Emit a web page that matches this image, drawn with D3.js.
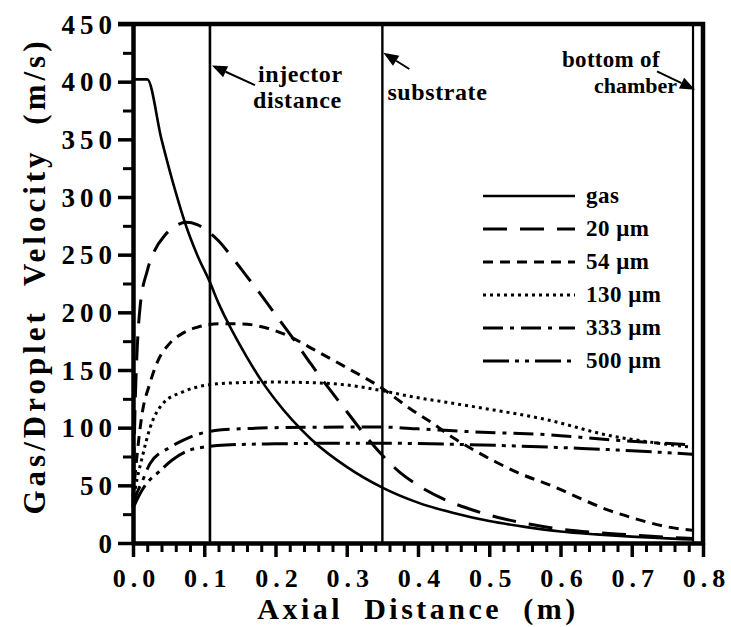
<!DOCTYPE html>
<html>
<head>
<meta charset="utf-8">
<script src="https://cdn.jsdelivr.net/npm/d3@7"></script>
<style>
  html, body { margin: 0; padding: 0; background: #fff; }
  svg { display: block; }
</style>
</head>
<body>
<svg id="chart" width="731" height="627"></svg>
<script>
// Axial position (m) and velocity (m/s) for the gas and each droplet size
const gasX  = [0, 0.02, 0.04, 0.06, 0.075, 0.09, 0.108, 0.12, 0.14, 0.16, 0.18, 0.2, 0.25, 0.3, 0.35, 0.4, 0.45, 0.5, 0.55, 0.6, 0.65, 0.7, 0.75, 0.785];
const gasV  = [402, 402, 350, 304, 274, 250, 226, 208, 183, 161, 141, 124, 90, 66, 48, 35, 26, 19, 14, 10, 7.5, 5.5, 4, 3];

const d20X  = [0, 0.003, 0.006, 0.01, 0.02, 0.03, 0.045, 0.06, 0.075, 0.09, 0.108, 0.12, 0.14, 0.16, 0.18, 0.2, 0.225, 0.25, 0.275, 0.3, 0.325, 0.35, 0.375, 0.4, 0.44, 0.48, 0.52, 0.56, 0.6, 0.65, 0.7, 0.75, 0.785];
const d20V  = [30, 120, 170, 205, 236, 253, 267, 275, 278, 276, 269, 262, 247, 231, 215, 198, 177, 155, 134, 114, 94, 76, 61, 50, 37, 28, 21, 16, 12, 9, 7, 5, 4];

const d54X  = [0, 0.005, 0.012, 0.024, 0.035, 0.05, 0.07, 0.09, 0.12, 0.15, 0.19, 0.22, 0.25, 0.3, 0.35, 0.39, 0.42, 0.45, 0.48, 0.51, 0.54, 0.59, 0.63, 0.665, 0.7, 0.75, 0.785];
const d54V  = [40, 72, 109, 139, 158, 172, 182, 187, 190, 190, 186, 179, 169, 152, 134, 116, 104, 91, 80, 70, 61, 49, 38, 29, 22, 14, 11];

const d130X = [0, 0.004, 0.012, 0.024, 0.042, 0.07, 0.104, 0.15, 0.2, 0.25, 0.3, 0.35, 0.39, 0.44, 0.49, 0.58, 0.67, 0.72, 0.785];
const d130V = [35, 50, 72, 100, 121, 131, 137, 139, 139.5, 139, 137, 132, 127, 122, 117, 107, 93, 88, 83];

const d333X = [0, 0.006, 0.012, 0.024, 0.052, 0.07, 0.09, 0.115, 0.15, 0.2, 0.3, 0.35, 0.4, 0.49, 0.58, 0.67, 0.785];
const d333V = [33, 44, 52, 69, 83, 89, 94, 97.5, 99, 100, 100.5, 100.5, 99, 96, 94, 89.5, 85];

const d500X = [0, 0.006, 0.012, 0.021, 0.035, 0.055, 0.077, 0.098, 0.13, 0.2, 0.3, 0.35, 0.49, 0.63, 0.7, 0.785];
const d500V = [30, 38, 45, 53, 61, 72, 80, 83, 85, 86, 86.5, 86.5, 85, 82, 80, 77];

const seriesNames = ["gas", "20 \u03bcm", "54 \u03bcm", "130 \u03bcm", "333 \u03bcm", "500 \u03bcm"];
const seriesX = [gasX, d20X, d54X, d130X, d333X, d500X];
const seriesV = [gasV, d20V, d54V, d130V, d333V, d500V];
const seriesDash = ["none", "24,13", "10,7", "3,4", "20,7,4,7", "26,6,4,6,4,6"];
const seriesWidth = [2.6, 3, 3, 3, 3, 3];

// Axis ticks and marker positions along the chamber (m)
const xTicks = [0, 0.1, 0.2, 0.3, 0.4, 0.5, 0.6, 0.7, 0.8];
const yTicks = [0, 50, 100, 150, 200, 250, 300, 350, 400, 450];
const injectorX = 0.108;
const substrateX = 0.35;
const chamberX = 0.786;

const SERIF = '"Liberation Serif", "Times New Roman", serif';

const svg = d3.select("#chart");
const x = d3.scaleLinear().domain([0, 0.8]).range([133, 703]);
const y = d3.scaleLinear().domain([0, 450]).range([543, 24]);

// Minor ticks
const xMinor = d3.range(0, 0.8001, 0.02).filter(v => Math.abs(v * 10 - Math.round(v * 10)) > 1e-6);
const yMinor = d3.range(25, 450, 50);

const xMinorAxis = d3.axisBottom(x).tickValues(xMinor).tickSize(9).tickFormat("").tickSizeOuter(0);
const yMinorAxis = d3.axisLeft(y).tickValues(yMinor).tickSize(10).tickFormat("").tickSizeOuter(0);
svg.append("g").attr("transform", `translate(0,${y(0)})`).call(xMinorAxis)
  .call(g => g.select(".domain").remove())
  .call(g => g.selectAll("line").attr("stroke", "#000").attr("stroke-width", 3));
svg.append("g").attr("transform", `translate(${x(0)},0)`).call(yMinorAxis)
  .call(g => g.select(".domain").remove())
  .call(g => g.selectAll("line").attr("stroke", "#000").attr("stroke-width", 3));

// Major axes
const xAxis = d3.axisBottom(x).tickValues(xTicks).tickSize(14).tickSizeOuter(0).tickFormat(d3.format(".1f"));
const yAxis = d3.axisLeft(y).tickValues(yTicks).tickSize(15).tickSizeOuter(0).tickFormat(d3.format("d"));

svg.append("g").attr("transform", `translate(0,${y(0)})`).call(xAxis)
  .attr("font-family", SERIF)
  .call(g => g.select(".domain").attr("stroke", "#000").attr("stroke-width", 4.5))
  .call(g => g.selectAll(".tick line").attr("stroke", "#000").attr("stroke-width", 3.5))
  .call(g => g.selectAll(".tick text")
    .attr("y", 44).attr("dy", 0).attr("dx", 3)
    .attr("font-size", 26).attr("font-weight", "bold").attr("letter-spacing", 5)
    .attr("fill", "#000"));

svg.append("g").attr("transform", `translate(${x(0)},0)`).call(yAxis)
  .attr("font-family", SERIF)
  .call(g => g.select(".domain").attr("stroke", "#000").attr("stroke-width", 4.5))
  .call(g => g.selectAll(".tick line").attr("stroke", "#000").attr("stroke-width", 3.5))
  .call(g => g.selectAll(".tick text")
    .attr("x", -16).attr("dy", 9)
    .attr("font-size", 27).attr("font-weight", "bold").attr("letter-spacing", 5)
    .attr("fill", "#000"));

// Top and right frame
svg.append("path")
  .attr("d", `M${x(0) - 15},${y(450)}H${x(0.8)}V${y(0) + 2}`)
  .attr("fill", "none").attr("stroke", "#000").attr("stroke-width", 4.5);

// Vertical markers
svg.append("line").attr("x1", x(injectorX)).attr("x2", x(injectorX)).attr("y1", y(450)).attr("y2", y(0))
  .attr("stroke", "#000").attr("stroke-width", 2.6);
svg.append("line").attr("x1", x(substrateX)).attr("x2", x(substrateX)).attr("y1", y(450)).attr("y2", y(0))
  .attr("stroke", "#000").attr("stroke-width", 2.4);
svg.append("line").attr("x1", x(chamberX)).attr("x2", x(chamberX)).attr("y1", y(450)).attr("y2", y(0))
  .attr("stroke", "#000").attr("stroke-width", 2.2);

// Curves
const line = d3.line().curve(d3.curveMonotoneX).x(d => x(d[0])).y(d => y(d[1]));
seriesNames.forEach((name, i) => {
  const pts = seriesX[i].map((xv, j) => [xv, seriesV[i][j]]);
  svg.append("path")
    .datum(pts)
    .attr("d", line)
    .attr("fill", "none")
    .attr("stroke", "#000")
    .attr("stroke-width", seriesWidth[i])
    .attr("stroke-dasharray", seriesDash[i]);
});

// Legend
const legend = svg.append("g");
seriesNames.forEach((name, i) => {
  const ly = 196 + i * 33;
  legend.append("line").attr("x1", 483).attr("x2", 575).attr("y1", ly).attr("y2", ly)
    .attr("stroke", "#000").attr("stroke-width", seriesWidth[i])
    .attr("stroke-dasharray", seriesDash[i]);
  legend.append("text").attr("x", 586).attr("y", ly + 7)
    .attr("font-size", 23).attr("letter-spacing", 0.5)
    .text(name);
});

// Annotations with arrows
const annot = svg.append("g");
function arrow(x1, y1, x2, y2) {
  const ang = Math.atan2(y2 - y1, x2 - x1);
  const len = 15, half = 6;
  const bx = x2 - len * Math.cos(ang), by = y2 - len * Math.sin(ang);
  annot.append("line").attr("x1", x1).attr("y1", y1).attr("x2", bx).attr("y2", by)
    .attr("stroke", "#000").attr("stroke-width", 2);
  annot.append("path")
    .attr("d", `M${x2},${y2}L${bx + half * Math.sin(ang)},${by - half * Math.cos(ang)}L${bx - half * Math.sin(ang)},${by + half * Math.cos(ang)}Z`)
    .attr("fill", "#000");
}
const annSize = 24;
annot.append("text").attr("x", x(injectorX) + 48).attr("y", 82).attr("font-size", annSize).attr("letter-spacing", 0.6).text("injector");
annot.append("text").attr("x", x(injectorX) + 43).attr("y", 108).attr("font-size", annSize).attr("letter-spacing", 0.6).text("distance");
arrow(x(injectorX) + 45, y(397), x(injectorX) + 2, y(414));

annot.append("text").attr("x", x(substrateX) + 5).attr("y", 100).attr("font-size", annSize).attr("letter-spacing", 0.6).text("substrate");
arrow(x(substrateX) + 27, y(411), x(substrateX) + 1, y(425));

annot.append("text").attr("x", 562).attr("y", 67).attr("font-size", 23).attr("letter-spacing", 0.3).text("bottom of");
annot.append("text").attr("x", 594).attr("y", 93).attr("font-size", 22).text("chamber");
arrow(x(chamberX) - 36, y(409), x(chamberX) + 2, y(393));

// Axis titles
svg.append("text")
  .attr("x", 418).attr("y", 619)
  .attr("text-anchor", "middle")
  .attr("font-size", 30).attr("letter-spacing", 3.5).attr("word-spacing", 10)
  .text("Axial Distance (m)");

svg.append("text")
  .attr("transform", "translate(45,276) rotate(-90)")
  .attr("text-anchor", "middle")
  .attr("font-size", 31).attr("letter-spacing", 4).attr("word-spacing", 12)
  .text("Gas/Droplet Velocity (m/s)");

// Common text styling
svg.selectAll("text")
  .attr("font-family", SERIF)
  .attr("font-weight", "bold")
  .attr("fill", "#000");
</script>
</body>
</html>
